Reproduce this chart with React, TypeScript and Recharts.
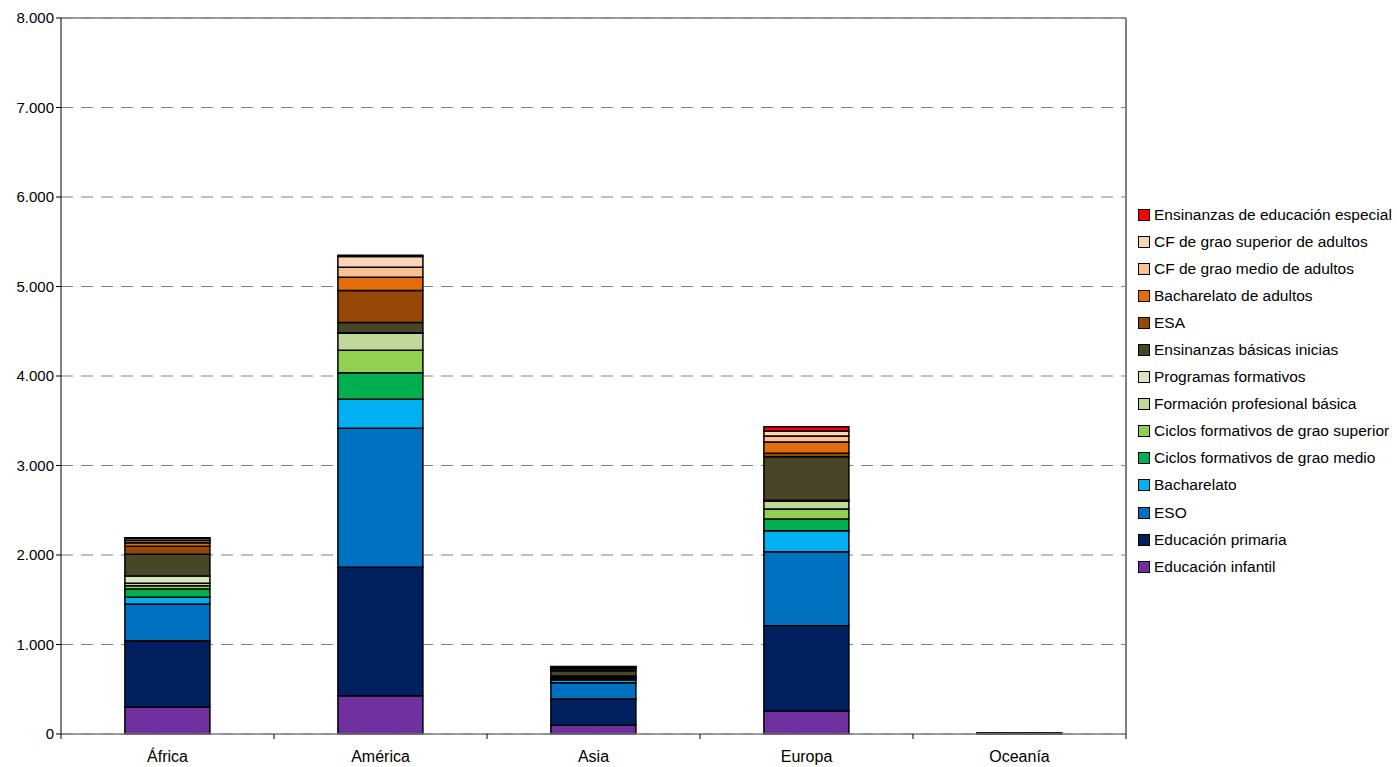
import React from "react";
import {
  BarChart,
  Bar,
  XAxis,
  YAxis,
  CartesianGrid,
  Legend,
  ReferenceLine,
} from "recharts";

const continents = ["África", "América", "Asia", "Europa", "Oceanía"];

// values per level of study, in continent order
const infantil = [302, 428, 97, 257, 3];
const primaria = [740, 1434, 294, 953, 4];
const eso = [411, 1553, 182, 827, 3];
const bacharelato = [74, 325, 30, 235, 0];
const cfMedio = [93, 296, 15, 130, 0];
const cfSuperior = [37, 251, 10, 112, 0];
const fpBasica = [27, 190, 10, 89, 0];
const programas = [80, 7, 10, 10, 0];
const ensBasicas = [243, 113, 60, 485, 0];
const esa = [92, 358, 20, 38, 0];
const bachAdultos = [37, 149, 10, 127, 0];
const cfMedioAdultos = [25, 111, 8, 67, 0];
const cfSuperiorAdultos = [22, 120, 6, 55, 0];
const especial = [10, 14, 2, 48, 0];

const yTicks = [0, 1000, 2000, 3000, 4000, 5000, 6000, 7000, 8000];

const series = [
  { key: "infantil", name: "Educación infantil", values: infantil, color: "#7030A0" },
  { key: "primaria", name: "Educación primaria", values: primaria, color: "#002060" },
  { key: "eso", name: "ESO", values: eso, color: "#0070C0" },
  { key: "bacharelato", name: "Bacharelato", values: bacharelato, color: "#00B0F0" },
  { key: "cfMedio", name: "Ciclos formativos de grao medio", values: cfMedio, color: "#00B050" },
  { key: "cfSuperior", name: "Ciclos formativos de grao superior", values: cfSuperior, color: "#92D050" },
  { key: "fpBasica", name: "Formación profesional básica", values: fpBasica, color: "#C4D79B" },
  { key: "programas", name: "Programas formativos", values: programas, color: "#D8E4BC" },
  { key: "ensBasicas", name: "Ensinanzas básicas inicias", values: ensBasicas, color: "#494529" },
  { key: "esa", name: "ESA", values: esa, color: "#974706" },
  { key: "bachAdultos", name: "Bacharelato de adultos", values: bachAdultos, color: "#E46C0A" },
  { key: "cfMedioAdultos", name: "CF de grao medio de adultos", values: cfMedioAdultos, color: "#FAC090" },
  { key: "cfSuperiorAdultos", name: "CF de grao superior de adultos", values: cfSuperiorAdultos, color: "#FCD5B5" },
  { key: "especial", name: "Ensinanzas de educación especial", values: especial, color: "#FF0000" },
];

const data = continents.map((c, i) => {
  const row: any = { continent: c };
  series.forEach((s) => {
    row[s.key] = s.values[i];
  });
  return row;
});

const fmt = (v: number) => v.toLocaleString("de-DE");

const font = "'Liberation Sans', Arial, sans-serif";

// category label plus Excel-style tick marks on the band edges
const CategoryTick = (props: any) => {
  const { x, y, payload, index, visibleTicksCount } = props;
  const half = payload && payload.offset ? payload.offset : 106.5;
  const isLast = index === visibleTicksCount - 1;
  return (
    <g>
      <line x1={x - half} x2={x - half} y1={y} y2={y + 5} stroke="#000" />
      {isLast && (
        <line x1={x + half} x2={x + half} y1={y} y2={y + 5} stroke="#000" />
      )}
      <text
        x={x}
        y={y + 28}
        textAnchor="middle"
        fill="#000"
        fontSize={16}
        fontFamily={font}
      >
        {payload.value}
      </text>
    </g>
  );
};

const LegendContent = () => (
  <div style={{ fontFamily: font, fontSize: 15.5, color: "#000" }}>
    {[...series].reverse().map((s) => (
      <div
        key={s.key}
        style={{ display: "flex", alignItems: "center", height: 27.1 }}
      >
        <span
          style={{
            display: "inline-block",
            width: 10,
            height: 10,
            background: s.color,
            border: "1px solid #000",
            marginRight: 4,
          }}
        />
        <span style={{ whiteSpace: "nowrap" }}>{s.name}</span>
      </div>
    ))}
  </div>
);

export default function App() {
  return (
    <div style={{ position: "absolute", left: 0, top: 0, background: "#fff" }}>
      <BarChart
        width={1397}
        height={767}
        data={data}
        margin={{ top: 18, right: 271, bottom: 0, left: 0 }}
        barCategoryGap="30%"
      >
        <CartesianGrid
          vertical={false}
          stroke="#808080"
          strokeDasharray="12 8"
        />
        <XAxis
          dataKey="continent"
          height={33}
          tickLine={false}
          axisLine={{ stroke: "#808080", strokeWidth: 1.5 }}
          tick={<CategoryTick />}
          tickMargin={0}
          tickSize={0}
          interval={0}
        />
        <YAxis
          width={61}
          domain={[0, 8000]}
          ticks={yTicks}
          interval={0}
          tickFormatter={fmt}
          axisLine={{ stroke: "#000" }}
          tickLine={{ stroke: "#000" }}
          tickSize={5}
          tick={{ fill: "#000", fontSize: 15, fontFamily: font }}
        />
        <ReferenceLine y={8000} stroke="#808080" strokeWidth={1.5} />
        <ReferenceLine
          x="Oceanía"
          position="end"
          stroke="#808080"
          strokeWidth={2}
        />
        <Legend
          layout="vertical"
          align="center"
          verticalAlign="middle"
          content={<LegendContent />}
          wrapperStyle={{ top: 201, left: 1138, width: "auto" }}
        />
        {series.map((s) => (
          <Bar
            key={s.key}
            dataKey={s.key}
            name={s.name}
            stackId="a"
            fill={s.color}
            stroke="#000"
            strokeWidth={1.5}
            isAnimationActive={false}
          />
        ))}
      </BarChart>
    </div>
  );
}
